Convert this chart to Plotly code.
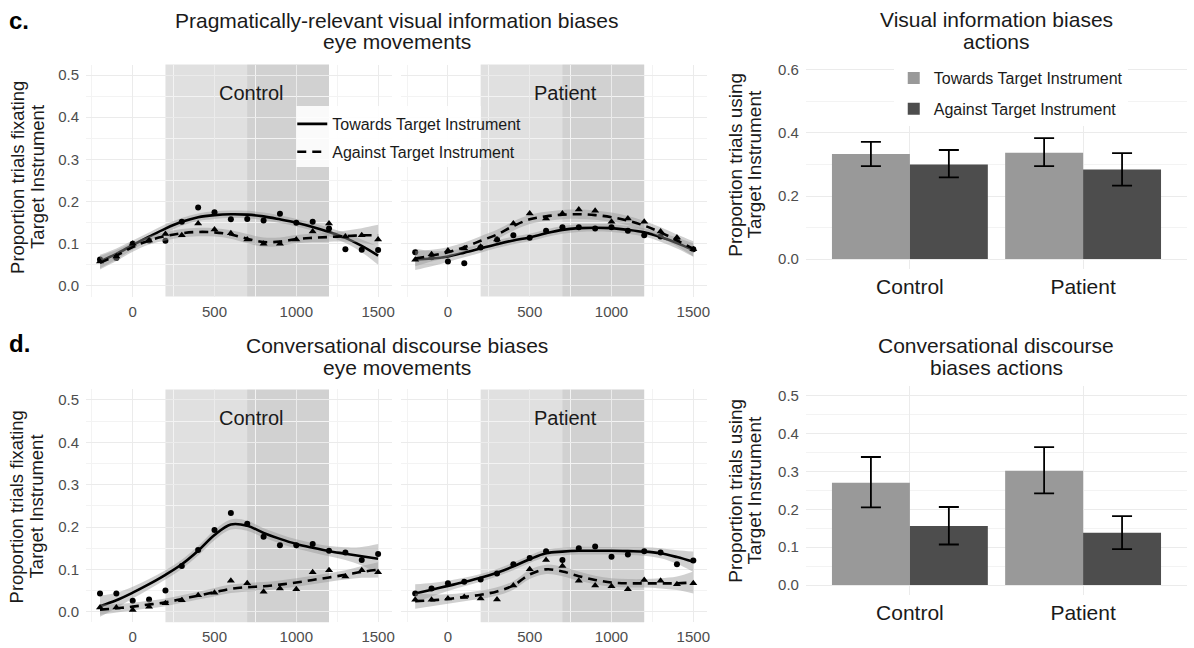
import plotly.graph_objects as go

# ---------------- data ----------------
time_ms = [-200, -100, 0, 100, 200, 300, 400, 500, 600, 700, 800, 900, 1000, 1100, 1200, 1300, 1400, 1500]

# c. Pragmatically-relevant visual information -> eye movements
c_ctrl_tow_pts = [0.063, 0.066, 0.100, 0.108, 0.107, 0.152, 0.186, 0.175, 0.158, 0.159, 0.155, 0.171, 0.150, 0.152, 0.136, 0.087, 0.086, 0.085]
c_ctrl_tow_fit = [0.058, 0.076, 0.097, 0.117, 0.136, 0.152, 0.163, 0.168, 0.170, 0.169, 0.165, 0.158, 0.150, 0.140, 0.128, 0.114, 0.095, 0.072]
c_ctrl_tow_se = [0.016, 0.013, 0.011, 0.010, 0.010, 0.009, 0.009, 0.009, 0.009, 0.009, 0.009, 0.009, 0.009, 0.009, 0.010, 0.012, 0.015, 0.022]
c_ctrl_ag_pts = [0.058, 0.070, 0.100, 0.108, 0.123, 0.120, 0.148, 0.134, 0.125, 0.110, 0.100, 0.100, 0.110, 0.129, 0.148, 0.117, 0.120, 0.110]
c_ctrl_ag_fit = [0.055, 0.072, 0.092, 0.108, 0.118, 0.125, 0.128, 0.127, 0.122, 0.112, 0.104, 0.105, 0.111, 0.114, 0.116, 0.118, 0.120, 0.120]
c_ctrl_ag_se = [0.016, 0.013, 0.011, 0.010, 0.010, 0.010, 0.010, 0.010, 0.010, 0.011, 0.011, 0.010, 0.010, 0.010, 0.011, 0.013, 0.017, 0.025]

c_pat_tow_pts = [0.080, 0.068, 0.058, 0.054, 0.091, 0.110, 0.120, 0.114, 0.131, 0.139, 0.139, 0.136, 0.139, 0.131, 0.120, 0.117, 0.110, 0.087]
c_pat_tow_fit = [0.063, 0.065, 0.070, 0.079, 0.089, 0.099, 0.108, 0.115, 0.125, 0.133, 0.137, 0.138, 0.137, 0.133, 0.127, 0.116, 0.102, 0.085]
c_pat_tow_se = [0.025, 0.018, 0.013, 0.011, 0.010, 0.009, 0.009, 0.009, 0.009, 0.009, 0.009, 0.009, 0.009, 0.009, 0.010, 0.011, 0.013, 0.016]
c_pat_ag_pts = [0.062, 0.075, 0.084, 0.089, 0.093, 0.110, 0.148, 0.172, 0.160, 0.172, 0.181, 0.178, 0.152, 0.160, 0.152, 0.129, 0.115, 0.087]
c_pat_ag_fit = [0.065, 0.072, 0.080, 0.092, 0.107, 0.122, 0.142, 0.158, 0.165, 0.169, 0.170, 0.168, 0.163, 0.155, 0.143, 0.127, 0.108, 0.088]
c_pat_ag_se = [0.018, 0.014, 0.012, 0.011, 0.011, 0.011, 0.011, 0.011, 0.011, 0.011, 0.011, 0.011, 0.011, 0.011, 0.011, 0.012, 0.014, 0.018]

# d. Conversational discourse -> eye movements
d_ctrl_tow_pts = [0.043, 0.043, 0.026, 0.029, 0.050, 0.108, 0.146, 0.193, 0.233, 0.208, 0.177, 0.157, 0.157, 0.160, 0.144, 0.140, 0.122, 0.136]
d_ctrl_tow_fit = [0.013, 0.027, 0.045, 0.065, 0.087, 0.112, 0.144, 0.181, 0.206, 0.203, 0.186, 0.172, 0.160, 0.151, 0.143, 0.137, 0.131, 0.125]
d_ctrl_tow_se = [0.025, 0.018, 0.014, 0.012, 0.011, 0.011, 0.011, 0.012, 0.012, 0.012, 0.011, 0.011, 0.011, 0.011, 0.012, 0.015, 0.022, 0.035]
d_ctrl_ag_pts = [0.010, 0.010, 0.004, 0.012, 0.020, 0.027, 0.039, 0.045, 0.073, 0.067, 0.047, 0.055, 0.053, 0.093, 0.098, 0.083, 0.098, 0.093]
d_ctrl_ag_fit = [0.005, 0.008, 0.012, 0.017, 0.022, 0.030, 0.038, 0.046, 0.054, 0.058, 0.060, 0.064, 0.069, 0.075, 0.081, 0.087, 0.094, 0.099]
d_ctrl_ag_se = [0.012, 0.010, 0.009, 0.009, 0.009, 0.009, 0.009, 0.010, 0.010, 0.010, 0.010, 0.010, 0.010, 0.010, 0.010, 0.011, 0.014, 0.018]

d_pat_tow_pts = [0.043, 0.055, 0.067, 0.071, 0.076, 0.090, 0.112, 0.127, 0.143, 0.122, 0.150, 0.154, 0.130, 0.135, 0.143, 0.140, 0.112, 0.121]
d_pat_tow_fit = [0.043, 0.052, 0.061, 0.070, 0.080, 0.092, 0.107, 0.124, 0.138, 0.142, 0.144, 0.144, 0.144, 0.143, 0.142, 0.138, 0.129, 0.118]
d_pat_tow_se = [0.022, 0.016, 0.012, 0.010, 0.009, 0.009, 0.009, 0.009, 0.009, 0.009, 0.009, 0.009, 0.009, 0.009, 0.010, 0.012, 0.016, 0.024]
d_pat_ag_pts = [0.028, 0.028, 0.031, 0.035, 0.031, 0.029, 0.062, 0.100, 0.122, 0.108, 0.073, 0.062, 0.060, 0.053, 0.075, 0.073, 0.065, 0.067]
d_pat_ag_fit = [0.025, 0.027, 0.030, 0.035, 0.040, 0.048, 0.062, 0.088, 0.100, 0.095, 0.084, 0.075, 0.069, 0.067, 0.067, 0.067, 0.067, 0.069]
d_pat_ag_se = [0.018, 0.014, 0.011, 0.010, 0.010, 0.010, 0.010, 0.011, 0.011, 0.011, 0.011, 0.010, 0.010, 0.010, 0.010, 0.012, 0.016, 0.026]

# bar panels (actions)
groups = ["Control", "Patient"]
c_bar_tow = [0.333, 0.337]
c_bar_tow_lo = [0.295, 0.295]
c_bar_tow_hi = [0.372, 0.384]
c_bar_ag = [0.300, 0.284]
c_bar_ag_lo = [0.259, 0.233]
c_bar_ag_hi = [0.346, 0.336]

d_bar_tow = [0.270, 0.302]
d_bar_tow_lo = [0.205, 0.242]
d_bar_tow_hi = [0.338, 0.364]
d_bar_ag = [0.156, 0.138]
d_bar_ag_lo = [0.107, 0.095]
d_bar_ag_hi = [0.206, 0.182]

# window boundaries (ms)
win_start, win_mid, win_end = 200, 700, 1200

# ---------------- styling ----------------
W, H = 1194, 648
FONT = "Liberation Sans, Arial, Helvetica, sans-serif"
GRID = "#ebebeb"
MINOR = "#f3f3f3"
RIB = "rgba(150,150,150,0.45)"
LIGHT_BAR = "#999999"
DARK_BAR = "#4d4d4d"
LW = 2.6


def px(xp):
    return xp / W


def py(yp):
    return 1 - yp / H


fig = go.Figure()


def add_series(xa, ya, pts, fit, se, symbol, dash, name, showlegend):
    upper = [f + s for f, s in zip(fit, se)]
    lower = [f - s for f, s in zip(fit, se)]
    fig.add_trace(go.Scatter(x=time_ms, y=upper, xaxis=xa, yaxis=ya, mode="lines",
                             line=dict(width=0, shape="spline", color=RIB),
                             hoverinfo="skip", showlegend=False))
    fig.add_trace(go.Scatter(x=time_ms, y=lower, xaxis=xa, yaxis=ya, mode="lines",
                             line=dict(width=0, shape="spline", color=RIB),
                             fill="tonexty", fillcolor=RIB,
                             hoverinfo="skip", showlegend=False))
    fig.add_trace(go.Scatter(x=time_ms, y=pts, xaxis=xa, yaxis=ya, mode="markers",
                             marker=dict(symbol=symbol, size=6 if symbol == "circle" else 7, color="black"),
                             showlegend=False, name=name))
    fig.add_trace(go.Scatter(x=time_ms, y=fit, xaxis=xa, yaxis=ya, mode="lines",
                             line=dict(color="black", width=LW, dash=dash, shape="spline"),
                             name=name, legendgroup=name, showlegend=showlegend, legend="legend"))


TOW = "Towards Target Instrument"
AG = "Against Target Instrument"
DASH = "9px,6px"

panels = [
    ("x", "y", c_ctrl_tow_pts, c_ctrl_tow_fit, c_ctrl_tow_se, c_ctrl_ag_pts, c_ctrl_ag_fit, c_ctrl_ag_se, True),
    ("x2", "y2", c_pat_tow_pts, c_pat_tow_fit, c_pat_tow_se, c_pat_ag_pts, c_pat_ag_fit, c_pat_ag_se, False),
    ("x4", "y4", d_ctrl_tow_pts, d_ctrl_tow_fit, d_ctrl_tow_se, d_ctrl_ag_pts, d_ctrl_ag_fit, d_ctrl_ag_se, False),
    ("x5", "y5", d_pat_tow_pts, d_pat_tow_fit, d_pat_tow_se, d_pat_ag_pts, d_pat_ag_fit, d_pat_ag_se, False),
]
for xa, ya, tp, tf, ts, ap, af, as_, sl in panels:
    add_series(xa, ya, tp, tf, ts, "circle", "solid", TOW, sl)
    add_series(xa, ya, ap, af, as_, "triangle-up", DASH, AG, sl)


def add_bars(xa, ya, tow, tlo, thi, ag, alo, ahi, showlegend):
    fig.add_trace(go.Bar(x=groups, y=tow, xaxis=xa, yaxis=ya, name=TOW, marker_color=LIGHT_BAR,
                         marker_line_width=0, legend="legend2", legendgroup="bar_t",
                         showlegend=showlegend, offsetgroup="t",
                         error_y=dict(type="data", symmetric=False,
                                      array=[h - v for h, v in zip(thi, tow)],
                                      arrayminus=[v - l for v, l in zip(tow, tlo)],
                                      color="black", thickness=1.8, width=10)))
    fig.add_trace(go.Bar(x=groups, y=ag, xaxis=xa, yaxis=ya, name=AG, marker_color=DARK_BAR,
                         marker_line_width=0, legend="legend2", legendgroup="bar_a",
                         showlegend=showlegend, offsetgroup="a",
                         error_y=dict(type="data", symmetric=False,
                                      array=[h - v for h, v in zip(ahi, ag)],
                                      arrayminus=[v - l for v, l in zip(ag, alo)],
                                      color="black", thickness=1.8, width=10)))


add_bars("x3", "y3", c_bar_tow, c_bar_tow_lo, c_bar_tow_hi, c_bar_ag, c_bar_ag_lo, c_bar_ag_hi, True)
add_bars("x6", "y6", d_bar_tow, d_bar_tow_lo, d_bar_tow_hi, d_bar_ag, d_bar_ag_lo, d_bar_ag_hi, False)

# ---------------- axes ----------------
tickfont = dict(size=15, color="#4d4d4d", family=FONT)


def line_x(domain):
    return dict(domain=domain, range=[-285, 1585], tickmode="linear", tick0=0, dtick=500,
                showgrid=True, gridcolor=GRID, gridwidth=1.3,
                minor=dict(tickmode="linear", tick0=250, dtick=500, showgrid=True, gridcolor=MINOR, gridwidth=0.8),
                zeroline=False, showline=False, ticks="", tickfont=tickfont, ticklabelstandoff=4)


def line_y(domain, labels, anchor):
    return dict(domain=domain, range=[-0.025, 0.525], tickmode="linear", tick0=0, dtick=0.1,
                tickformat=".1f", showgrid=True, gridcolor=GRID, gridwidth=1.3,
                minor=dict(tickmode="linear", tick0=0.05, dtick=0.1, showgrid=True, gridcolor=MINOR, gridwidth=0.8),
                zeroline=False, showline=False, ticks="", showticklabels=labels,
                tickfont=tickfont, anchor=anchor, ticklabelstandoff=6)


def bar_x(domain, anchor):
    return dict(domain=domain, type="category", range=[-0.6, 1.6], showgrid=True, gridcolor=GRID,
                gridwidth=1.3, zeroline=False, showline=False, ticks="", anchor=anchor,
                tickfont=dict(size=21, color="#1a1a1a", family=FONT), ticklabelstandoff=3)


def bar_y(domain, rng, dtick, anchor):
    return dict(domain=domain, range=rng, tickmode="linear", tick0=0, dtick=dtick, tickformat=".1f",
                showgrid=True, gridcolor=GRID, gridwidth=1.3,
                minor=dict(tickmode="linear", tick0=dtick / 2, dtick=dtick, showgrid=True, gridcolor=MINOR, gridwidth=0.8),
                zeroline=False, showline=False, ticks="", tickfont=tickfont, anchor=anchor,
                ticklabelstandoff=6)


cy = [py(296.5), py(64.5)]
dy = [py(622.3), py(389.4)]
ctrl_x = [px(86.3), px(393)]
pat_x = [px(402.3), px(709)]
bar_xd = [px(808), px(1190)]

fig.update_layout(
    xaxis=line_x(ctrl_x) | dict(anchor="y"),
    yaxis=line_y(cy, True, "x"),
    xaxis2=line_x(pat_x) | dict(anchor="y2"),
    yaxis2=line_y(cy, False, "x2"),
    xaxis3=bar_x(bar_xd, "y3"),
    yaxis3=bar_y([py(268.5), py(60.5)], [-0.03, 0.63], 0.2, "x3"),
    xaxis4=line_x(ctrl_x) | dict(anchor="y4"),
    yaxis4=line_y(dy, True, "x4"),
    xaxis5=line_x(pat_x) | dict(anchor="y5"),
    yaxis5=line_y(dy, False, "x5"),
    xaxis6=bar_x(bar_xd, "y6"),
    yaxis6=bar_y([py(594.5), py(386.2)], [-0.025, 0.525], 0.1, "x6"),
    barmode="group", bargap=0.1, bargroupgap=0,
    width=W, height=H, margin=dict(l=0, r=0, t=0, b=0),
    paper_bgcolor="white", plot_bgcolor="white",
    font=dict(family=FONT, color="#1a1a1a"),
    legend=dict(x=px(293), y=py(107), xanchor="left", yanchor="top", bgcolor="rgba(255,255,255,0)",
                font=dict(size=16, family=FONT, color="#1a1a1a"), tracegroupgap=4, itemwidth=30),
    legend2=dict(x=px(896), y=py(61), xanchor="left", yanchor="top", bgcolor="white",
                 font=dict(size=16, family=FONT, color="#1a1a1a"), traceorder="grouped", tracegroupgap=7),
)

# shaded analysis windows on each eye-movement panel
shapes = []
for xa, ya in [("x", "y"), ("x2", "y2"), ("x4", "y4"), ("x5", "y5")]:
    shapes.append(dict(type="rect", xref=xa, yref=f"{ya} domain", x0=win_start, x1=win_end, y0=0, y1=1,
                       fillcolor="rgba(0,0,0,0.12)", line_width=0, layer="below"))
    shapes.append(dict(type="rect", xref=xa, yref=f"{ya} domain", x0=win_mid, x1=win_end, y0=0, y1=1,
                       fillcolor="rgba(0,0,0,0.065)", line_width=0, layer="below"))
# white backing of the line legend
shapes.append(dict(type="rect", xref="paper", yref="paper", x0=px(297), x1=px(482), y0=py(167), y1=py(106),
                   fillcolor="rgba(255,255,255,0.88)", line_width=0, layer="above"))
fig.update_layout(shapes=shapes)

# ---------------- text ----------------
ann = []


def text(x, y, s, size, color="#1a1a1a", angle=0, bold=False, xanchor="center", xref="paper", yref="paper"):
    ann.append(dict(x=x, y=y, xref=xref, yref=yref, text=f"<b>{s}</b>" if bold else s, showarrow=False,
                    xanchor=xanchor, yanchor="middle", textangle=angle,
                    font=dict(size=size, color=color, family=FONT)))


text(px(7), py(20), "c.", 24, "black", bold=True, xanchor="left")
text(px(7), py(343), "d.", 24, "black", bold=True, xanchor="left")
text(px(397.5), py(20), "Pragmatically-relevant visual information biases", 21)
text(px(397.5), py(42), "eye movements", 21)
text(px(999), py(19), "Visual information biases", 21)
text(px(999), py(41.5), "actions", 21)
text(px(397.5), py(345), "Conversational discourse biases", 21)
text(px(397.5), py(367), "eye movements", 21)
text(px(999), py(345), "Conversational discourse", 21)
text(px(999), py(367), "biases actions", 21)

for yc in (177, 506.5):
    text(px(17), py(yc), "Proportion trials fixating", 18.5, angle=-90)
    text(px(37), py(yc), "Target Instrument", 18.5, angle=-90)
for yc in (164.5, 490.5):
    text(px(737), py(yc), "Proportion trials using", 19, angle=-90)
    text(px(756), py(yc), "Target Instrument", 19, angle=-90)

text(720, 0.457, "Control", 20, xref="x", yref="y")
text(720, 0.457, "Patient", 20, xref="x2", yref="y2")
text(720, 0.458, "Control", 20, xref="x4", yref="y4")
text(720, 0.458, "Patient", 20, xref="x5", yref="y5")

fig.update_layout(annotations=ann)

fig.write_html("out.html", config={"displayModeBar": False},
               post_script="document.body.style.margin='0';document.body.style.padding='0';"
                           "document.documentElement.style.overflow='hidden';")
